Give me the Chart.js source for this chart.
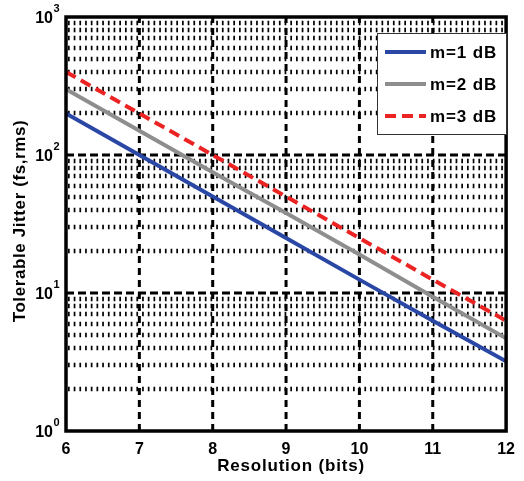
<!DOCTYPE html>
<html>
<head>
<meta charset="utf-8">
<script src="https://cdn.jsdelivr.net/npm/chart.js@4.4.1/dist/chart.umd.min.js"></script>
<style>
  html, body { margin: 0; padding: 0; background: #fff; }
  #wrap { width: 524px; height: 481px; }
</style>
</head>
<body>
<div id="wrap"><canvas id="jitterChart"></canvas></div>
<script>
// data
const bits = [6, 7, 8, 9, 10, 11, 12];
const jitterM1 = [200, 100, 50, 25, 12.5, 6.3, 3.2];
const jitterM2 = [300, 150, 75, 38, 19, 9.4, 4.7];
const jitterM3 = [400, 200, 100, 50, 25, 12.5, 6.3];
const seriesNames = ["m=1 dB", "m=2 dB", "m=3 dB"];
const xTicks = [6, 7, 8, 9, 10, 11, 12];
const yDecades = [1, 10, 100, 1000];
const xTitle = "Resolution (bits)";
const yTitle = "Tolerable Jitter (fs,rms)";

const FONT = "'Liberation Sans', Arial, sans-serif";

function toPoints(ys) {
    return bits.map((b, i) => ({ x: b, y: ys[i] }));
}

// grid lines like the matlab plot: dashed majors, dotted minors
const gridPlugin = {
    id: "gridLines",
    beforeDatasetsDraw(chart) {
        const { ctx, chartArea: a, scales } = chart;
        const xs = scales.x, ys = scales.y;
        ctx.save();
        ctx.strokeStyle = "#000";

        // minor horizontal (2..9 in each decade)
        ctx.lineWidth = 4.5;
        ctx.setLineDash([1.7, 4]);
        for (let d = 0; d < yDecades.length - 1; d++) {
            for (let k = 2; k <= 9; k++) {
                const y = Math.round(ys.getPixelForValue(yDecades[d] * k));
                ctx.beginPath();
                ctx.moveTo(a.left + 2, y);
                ctx.lineTo(a.right, y);
                ctx.stroke();
            }
        }

        // major horizontal
        ctx.lineWidth = 3;
        ctx.setLineDash([8, 4]);
        yDecades.slice(1, -1).forEach(v => {
            const y = ys.getPixelForValue(v);
            ctx.beginPath();
            ctx.moveTo(a.left, y);
            ctx.lineTo(a.right, y);
            ctx.stroke();
        });

        // major vertical
        ctx.setLineDash([7, 5]);
        xTicks.slice(1, -1).forEach(v => {
            const x = xs.getPixelForValue(v);
            ctx.beginPath();
            ctx.moveTo(x, a.bottom);
            ctx.lineTo(x, a.top);
            ctx.stroke();
        });
        ctx.restore();
    },
    afterDatasetsDraw(chart) {
        const { ctx, chartArea: a, scales } = chart;
        ctx.save();
        // box
        ctx.strokeStyle = "#000";
        ctx.lineWidth = 3.5;
        ctx.setLineDash([]);
        ctx.strokeRect(a.left, a.top, a.right - a.left, a.bottom - a.top);

        // y labels 10^n
        ctx.fillStyle = "#000";
        yDecades.forEach((v, i) => {
            const y = scales.y.getPixelForValue(v);
            ctx.font = "bold 16px " + FONT;
            ctx.textAlign = "right";
            ctx.textBaseline = "middle";
            ctx.fillText("10", 53, y + 2);
            ctx.font = "bold 11px " + FONT;
            ctx.textAlign = "left";
            ctx.fillText(String(i), 53.5, y - 8);
        });

        // axis titles
        ctx.font = "bold 17px " + FONT;
        ctx.textAlign = "center";
        ctx.textBaseline = "alphabetic";
        ctx.letterSpacing = "0.8px";
        ctx.fillText(xTitle, 291, 471);
        ctx.letterSpacing = "0.6px";
        ctx.translate(25, 221);
        ctx.rotate(-Math.PI / 2);
        ctx.fillText(yTitle, 0, 0);
        ctx.restore();
    },
    afterDraw(chart) {
        // legend box, top right
        const { ctx } = chart;
        const bx = 377, by = 33, bw = 129, bh = 101;
        ctx.save();
        ctx.fillStyle = "#fff";
        ctx.fillRect(bx, by, bw, bh);
        ctx.strokeStyle = "#333";
        ctx.lineWidth = 1;
        ctx.strokeRect(bx + 0.5, by + 0.5, bw, bh);
        chart.data.datasets.forEach((ds, i) => {
            const y = 52 + i * 32;
            ctx.strokeStyle = ds.borderColor;
            ctx.lineWidth = ds.borderWidth;
            ctx.setLineDash(ds.borderDash || []);
            ctx.beginPath();
            ctx.moveTo(385, y);
            ctx.lineTo(426, y);
            ctx.stroke();
            ctx.setLineDash([]);
            ctx.fillStyle = "#000";
            ctx.font = "bold 17px " + FONT;
            ctx.letterSpacing = "0.9px";
            ctx.textAlign = "left";
            ctx.textBaseline = "middle";
            ctx.fillText(ds.label, 430, y + 1);
        });
        ctx.restore();
    }
};

const ctx = document.getElementById("jitterChart");
new Chart(ctx, {
    type: "line",
    data: {
        datasets: [
            { label: seriesNames[0], data: toPoints(jitterM1), borderColor: "#2a47a6", borderWidth: 4 },
            { label: seriesNames[1], data: toPoints(jitterM2), borderColor: "#8e8e8e", borderWidth: 4 },
            { label: seriesNames[2], data: toPoints(jitterM3), borderColor: "#ec2323", borderWidth: 4, borderDash: [11, 6] }
        ]
    },
    options: {
        responsive: true,
        maintainAspectRatio: false,
        animation: false,
        elements: { point: { radius: 0 }, line: { tension: 0 } },
        layout: { padding: { top: 17, right: 13, left: 0, bottom: 0 } },
        plugins: { legend: { display: false }, tooltip: { enabled: false } },
        scales: {
            x: {
                type: "linear",
                min: 6,
                max: 12,
                afterBuildTicks: s => { s.ticks = xTicks.map(v => ({ value: v })); },
                afterFit: s => { s.height = 50; },
                grid: { display: false, drawTicks: false },
                border: { display: false },
                ticks: {
                    color: "#000",
                    padding: 9,
                    maxRotation: 0,
                    font: { family: FONT, size: 16, weight: "bold" }
                }
            },
            y: {
                type: "logarithmic",
                min: 1,
                max: 1000,
                afterFit: s => { s.width = 66; },
                grid: { display: false, drawTicks: false },
                border: { display: false },
                ticks: { display: false }
            }
        }
    },
    plugins: [gridPlugin]
});
</script>
</body>
</html>
